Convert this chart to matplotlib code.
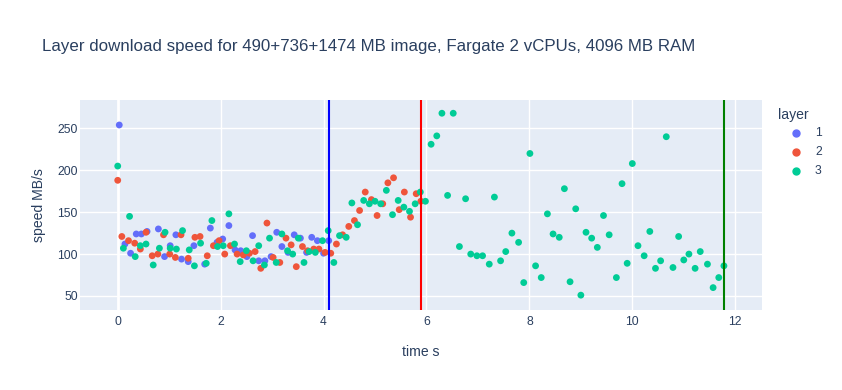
import matplotlib
matplotlib.use("Agg")
import matplotlib.pyplot as plt
from matplotlib.lines import Line2D

# ---------------- data ----------------
layer1_t = [0.03, 0.14, 0.25, 0.36, 0.46, 0.57, 0.79, 0.91, 1.02, 1.13, 1.24, 1.37, 1.48,
            1.69, 1.80, 1.93, 2.04, 2.16, 2.28, 2.39, 2.51, 2.62, 2.74, 2.86, 2.98, 3.09,
            3.19, 3.31, 3.43, 3.55, 3.67, 3.77, 3.88, 4.00, 4.10]
layer1_v = [254, 112, 101, 124, 124, 127, 130, 97, 110, 123, 94, 91, 110,
            88, 131, 114, 118, 134, 105, 104, 97, 122, 92, 92, 97, 126,
            109, 102, 123, 119, 102, 120, 116, 101, 116]

layer2_t = [0.0, 0.08, 0.21, 0.33, 0.44, 0.55, 0.67, 0.78, 0.89, 1.01, 1.12, 1.23, 1.37,
            1.50, 1.60, 1.74, 1.86, 1.97, 2.08, 2.19, 2.32, 2.44, 2.56, 2.67, 2.78, 2.90,
            3.02, 3.15, 3.27, 3.37, 3.47, 3.59, 3.69, 3.81, 3.91, 4.03, 4.14, 4.25, 4.37,
            4.49, 4.60, 4.70, 4.81, 4.93, 5.04, 5.15, 5.25, 5.36, 5.47, 5.57, 5.69, 5.80, 5.89]
layer2_v = [188, 121, 116, 113, 106, 126, 98, 100, 123, 100, 96, 123, 95,
            120, 121, 98, 110, 116, 100, 110, 100, 99, 101, 103, 83, 137,
            96, 90, 119, 111, 85, 109, 104, 106, 106, 102, 101, 112, 123,
            133, 140, 152, 174, 165, 146, 160, 185, 191, 153, 174, 144, 172, 163]

layer3_t = [0.0, 0.11, 0.23, 0.34, 0.44, 0.55, 0.69, 0.81, 0.92, 1.02, 1.14, 1.26, 1.39,
            1.49, 1.61, 1.72, 1.83, 1.94, 2.05, 2.16, 2.27, 2.38, 2.50, 2.63, 2.74, 2.85,
            2.95, 3.08, 3.19, 3.30, 3.40, 3.51, 3.62, 3.72, 3.84, 3.98, 4.09, 4.20, 4.31,
            4.44, 4.55, 4.66, 4.78, 4.89, 5.00, 5.11, 5.22, 5.34, 5.45, 5.56, 5.67, 5.78,
            5.88, 5.98, 6.09, 6.20, 6.30, 6.41, 6.52, 6.64, 6.76, 6.86, 6.98, 7.09, 7.22,
            7.32, 7.44, 7.54, 7.66, 7.79, 7.89, 8.01, 8.12, 8.23, 8.35, 8.46, 8.58, 8.68,
            8.79, 8.90, 9.00, 9.10, 9.21, 9.32, 9.44, 9.55, 9.69, 9.80, 9.90, 10.00, 10.11,
            10.23, 10.34, 10.45, 10.55, 10.66, 10.79, 10.90, 11.00, 11.10, 11.22, 11.32,
            11.46, 11.57, 11.68, 11.78]
layer3_v = [205, 107, 145, 97, 110, 112, 87, 107, 126, 107, 106, 128, 105,
            86, 113, 89, 140, 109, 110, 148, 112, 91, 104, 92, 110, 87,
            119, 90, 124, 104, 100, 119, 90, 103, 102, 116, 128, 90, 122,
            120, 161, 135, 164, 160, 163, 160, 176, 147, 164, 156, 151, 160,
            174, 163, 231, 241, 268, 170, 268, 109, 166, 100, 98, 98, 88,
            168, 92, 103, 125, 114, 66, 220, 86, 72, 148, 124, 120, 178,
            67, 154, 51, 126, 119, 108, 146, 123, 72, 184, 89, 208, 110,
            98, 127, 83, 92, 240, 84, 121, 93, 100, 83, 103,
            88, 60, 72, 86]

layer_names = ["1", "2", "3"]
layer_end = [4.11, 5.89, 11.78]

# ---------------- styling ----------------
colors = ["#636EFA", "#EF553B", "#00CC96"]
end_colors = ["blue", "red", "green"]
text_col = "#2a3f5f"
FONT = "Liberation Sans"
W, H = 842, 390

fig = plt.figure(figsize=(W / 100, H / 100), dpi=100)
L, R, T, B = 80, 762, 100, 310
ax = fig.add_axes([L / W, 1 - B / H, (R - L) / W, (B - T) / H])
ax.set_facecolor("#E5ECF6")
for s in ax.spines.values():
    s.set_visible(False)

ax.set_xlim(-0.733, 12.52)
ax.set_ylim(33.3, 283.8)
ax.set_xticks([0, 2, 4, 6, 8, 10, 12])
ax.set_yticks([50, 100, 150, 200, 250])
ax.grid(True, color="white", linewidth=1.0)
ax.set_axisbelow(True)
ax.axvline(0, color="white", linewidth=2.0, zorder=0.5)
ax.tick_params(length=0, labelsize=8.7, labelcolor=text_col)
ax.tick_params(axis="x", pad=4.5)
ax.tick_params(axis="y", pad=1.5)
for lab in ax.get_xticklabels() + ax.get_yticklabels():
    lab.set_fontfamily(FONT)

series = [(layer1_t, layer1_v), (layer2_t, layer2_v), (layer3_t, layer3_v)]
for (t, v), c in zip(series, colors):
    ax.scatter(t, v, s=24, color=c, edgecolors="none", zorder=3)

for xe, c in zip(layer_end, end_colors):
    ax.axvline(xe, color=c, linewidth=1.5, zorder=4)

ax.set_xlabel("time s", fontsize=10.1, color=text_col, fontfamily=FONT, labelpad=12)
ax.set_ylabel("speed MB/s", fontsize=10.1, color=text_col, fontfamily=FONT, labelpad=8)

fig.text(42 / W, 1 - 46 / H, "Layer download speed for 490+736+1474 MB image, Fargate 2 vCPUs, 4096 MB RAM",
         fontsize=12.2, color=text_col, fontfamily=FONT, va="center", ha="left")

# legend
fig.text(778 / W, 1 - 115 / H, "layer", fontsize=10.1, color=text_col, fontfamily=FONT,
         va="center", ha="left")
for i, (name, c) in enumerate(zip(layer_names, colors)):
    y = 133.3 + 19 * i
    fig.add_artist(Line2D([795.7 / W], [1 - y / H], marker="o", markersize=5, color=c,
                          linestyle="none", transform=fig.transFigure))
    fig.text(815 / W, 1 - y / H, name, fontsize=8.7, color=text_col, fontfamily=FONT,
             va="center", ha="left")

fig.savefig("out.png", dpi=100)
